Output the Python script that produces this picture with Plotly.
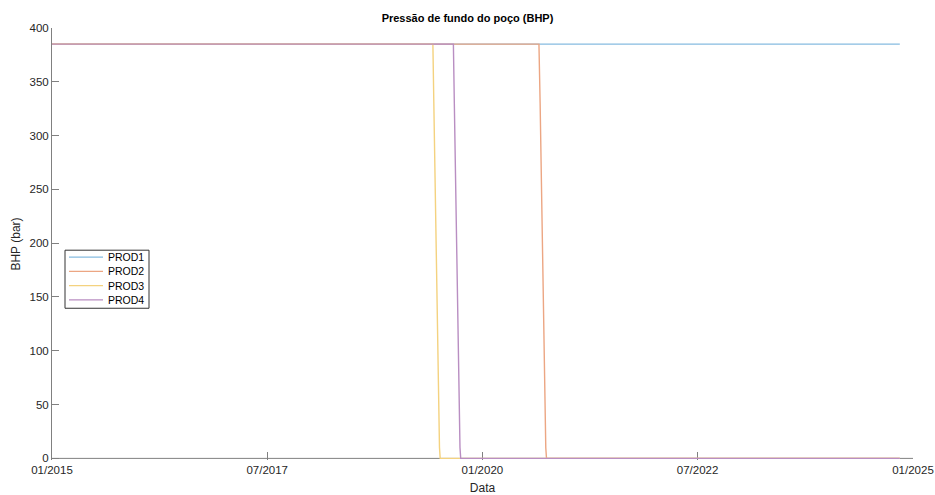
import plotly.graph_objects as go

# Bottom-hole pressure history per producer well (bar)
prod1_dates = ["2015-01-01", "2024-11-06"]
prod1_bhp = [385, 385]

prod2_dates = ["2015-01-01", "2020-08-28", "2020-09-02", "2020-09-06", "2020-09-10",
               "2020-09-14", "2020-09-18", "2020-09-22", "2020-09-26", "2020-09-29", "2024-11-06"]
prod2_bhp = [385, 385, 330, 270, 210, 150, 90, 45, 10, 0, 0]

prod3_dates = ["2015-01-01", "2019-06-05", "2019-06-09", "2019-06-13", "2019-06-17",
               "2019-06-21", "2019-06-25", "2019-06-29", "2019-07-03", "2019-07-06", "2024-11-06"]
prod3_bhp = [385, 385, 330, 270, 210, 150, 90, 45, 10, 0, 0]

prod4_dates = ["2015-01-01", "2019-08-31", "2019-09-04", "2019-09-08", "2019-09-12",
               "2019-09-16", "2019-09-20", "2019-09-24", "2019-09-28", "2019-10-01", "2024-11-06"]
prod4_bhp = [385, 385, 330, 270, 210, 150, 90, 45, 10, 0, 0]

well_names = ["PROD1", "PROD2", "PROD3", "PROD4"]
well_colors = ["#86bbe0", "#eca683", "#f4d27f", "#b98ec2"]
series = list(zip(well_names,
                  [prod1_dates, prod2_dates, prod3_dates, prod4_dates],
                  [prod1_bhp, prod2_bhp, prod3_bhp, prod4_bhp],
                  well_colors))

x_tick_vals = ["2015-01-01", "2017-07-02", "2020-01-01", "2022-07-02", "2025-01-01"]
x_tick_text = ["01/2015", "07/2017", "01/2020", "07/2022", "01/2025"]
y_tick_vals = [0, 50, 100, 150, 200, 250, 300, 350, 400]

font_family = "Liberation Sans, Arial, Helvetica, sans-serif"
axis_color = "#808080"
text_color = "#262626"

# Small pad below zero so curves resting at 0 bar are not clipped in half
y_pad = 1.5
W, H = 935, 495
ML, MR, MT = 52, 22, 28
px_per_bar = 430 / 400
MB = 37 - y_pad * px_per_bar
PW, PH = W - ML - MR, H - MT - MB


def px_x(x):
    return (x - ML) / PW


def px_y(y):
    return (H - MB - y) / PH


fig = go.Figure()
for name, d, v, c in series:
    fig.add_trace(go.Scatter(x=d, y=v, mode="lines", name=name,
                             line=dict(color=c, width=1.4), showlegend=False))

# Baseline of the x axis at 0 bar, kept underneath the curves
shapes = [dict(type="line", xref="paper", yref="y", x0=0, x1=1, y0=0, y1=0,
               line=dict(color=axis_color, width=1), layer="below")]

# Compact boxed legend in the lower-left part of the axes
shapes.append(dict(type="rect", xref="paper", yref="paper",
                   x0=px_x(65), x1=px_x(149), y0=px_y(308), y1=px_y(250),
                   line=dict(color="#333333", width=1), fillcolor="white", layer="above"))
annotations = []
for i, (name, c) in enumerate(zip(well_names, well_colors)):
    yy = 257 + i * 14.2
    shapes.append(dict(type="line", xref="paper", yref="paper",
                       x0=px_x(69), x1=px_x(103), y0=px_y(yy), y1=px_y(yy),
                       line=dict(color=c, width=1.2), layer="above"))
    annotations.append(dict(text=name, xref="paper", yref="paper",
                            x=px_x(106), y=px_y(yy), xanchor="left", yanchor="middle",
                            showarrow=False, font=dict(size=10.5, color="black")))

fig.update_layout(
    width=W, height=H,
    margin=dict(l=ML, r=MR, t=MT, b=MB),
    paper_bgcolor="white", plot_bgcolor="white",
    font=dict(family=font_family, size=11.5, color=text_color),
    title=dict(text="<b>Pressão de fundo do poço (BHP)</b>", x=0.5, xanchor="center",
               y=1 - 18 / H, yanchor="middle", font=dict(size=11, color="black")),
    showlegend=False,
    shapes=shapes,
    annotations=annotations,
    xaxis=dict(type="date", range=["2015-01-01", "2025-01-01"], automargin=False,
               tickvals=x_tick_vals, ticktext=x_tick_text, layer="below traces",
               ticks="inside", ticklen=8, tickcolor=axis_color,
               ticklabelstandoff=1,
               showline=False,
               showgrid=False, zeroline=False,
               title=dict(text="Data", standoff=9, font=dict(size=12)),
               tickfont=dict(size=11.5, color=text_color)),
    yaxis=dict(range=[-y_pad, 400], tickvals=y_tick_vals, automargin=False,
               layer="below traces",
               ticks="inside", ticklen=7, tickcolor=axis_color,
               showline=True, linecolor=axis_color, linewidth=1,
               showgrid=False, zeroline=False,
               title=dict(text="BHP (bar)", standoff=6, font=dict(size=12)),
               tickfont=dict(size=11.5, color=text_color)),
)

fig.write_html("out.html")
